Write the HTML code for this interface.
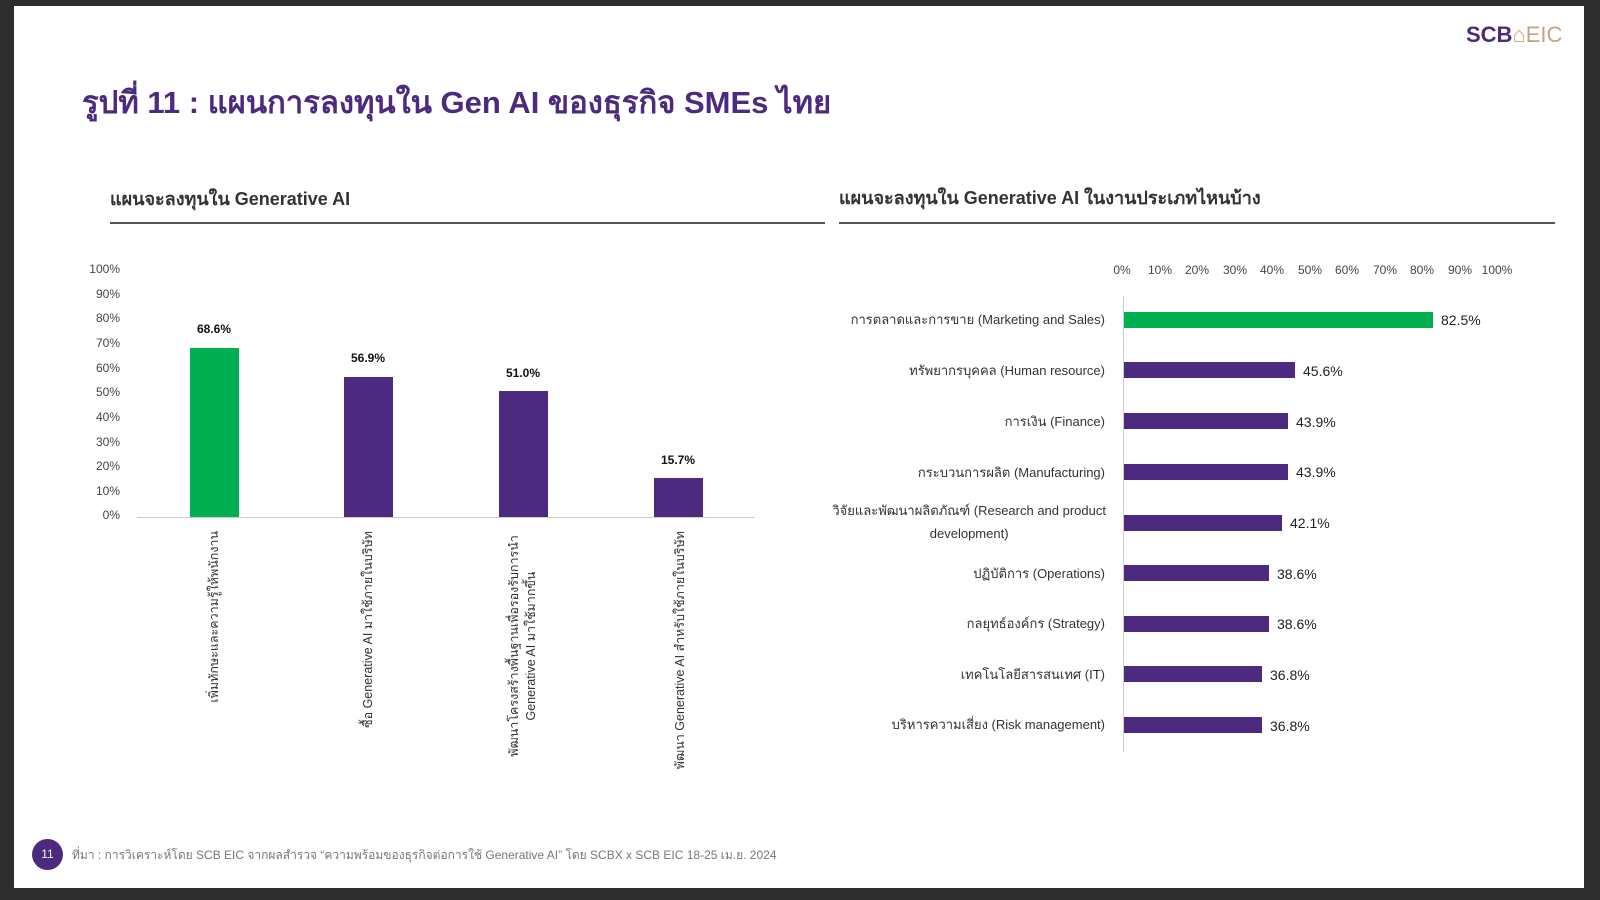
<!DOCTYPE html>
<html><head><meta charset="utf-8"><style>
*{margin:0;padding:0;box-sizing:border-box}
body{width:1600px;height:900px;background:#2d2d2d;position:relative;overflow:hidden;font-family:"Liberation Sans","DejaVu Sans",sans-serif}
#pg{position:absolute;left:14px;top:6px;width:1570px;height:882px;background:#fff}
.a{position:absolute;white-space:nowrap}
.yl{position:absolute;width:40px;text-align:right;font-size:12px;color:#444}
.xl{position:absolute;width:40px;text-align:center;font-size:12px;color:#444}
.bar{position:absolute;background:#4b2a7f}
.v{position:absolute;font-size:12px;font-weight:bold;color:#111;width:60px;text-align:center}
.rl{position:absolute;right:495px;text-align:right;font-size:13px;color:#333;line-height:23px;white-space:nowrap}
.rv{position:absolute;font-size:14px;color:#222}
.rot{position:absolute;transform-origin:0 0;transform:rotate(-90deg);font-size:12.5px;color:#333;text-align:right;line-height:17px;width:300px;white-space:nowrap}
</style></head><body>
<div id="pg"></div>
<div class="a" style="left:1466px;top:22px;font-size:22px;font-weight:bold;color:#4b2a7f">SCB<span style="color:#c8a37f;font-weight:normal">⌂EIC</span></div>
<div class="a" style="left:82px;top:77px;font-size:31px;font-weight:bold;color:#4b2a7f">รูปที่ 11 : แผนการลงทุนใน Gen AI ของธุรกิจ SMEs ไทย</div>
<div class="a" style="left:110px;top:184px;font-size:18px;font-weight:bold;color:#333">แผนจะลงทุนใน Generative AI</div>
<div class="a" style="left:110px;top:222px;width:715px;height:2px;background:#555"></div>
<div class="a" style="left:839px;top:183px;font-size:18px;font-weight:bold;color:#333">แผนจะลงทุนใน Generative AI ในงานประเภทไหนบ้าง</div>
<div class="a" style="left:839px;top:222px;width:716px;height:2px;background:#555"></div>

<!-- left chart -->
<div class="yl" style="left:80px;top:262px">100%</div>
<div class="yl" style="left:80px;top:287px">90%</div>
<div class="yl" style="left:80px;top:311px">80%</div>
<div class="yl" style="left:80px;top:336px">70%</div>
<div class="yl" style="left:80px;top:361px">60%</div>
<div class="yl" style="left:80px;top:385px">50%</div>
<div class="yl" style="left:80px;top:410px">40%</div>
<div class="yl" style="left:80px;top:435px">30%</div>
<div class="yl" style="left:80px;top:459px">20%</div>
<div class="yl" style="left:80px;top:484px">10%</div>
<div class="yl" style="left:80px;top:508px">0%</div>
<div class="a" style="left:137px;top:517px;width:618px;height:1px;background:#ccc"></div>
<div class="bar" style="left:190px;top:348px;width:49px;height:169px;background:#00b050"></div>
<div class="bar" style="left:344px;top:377px;width:49px;height:140px"></div>
<div class="bar" style="left:499px;top:391px;width:49px;height:126px"></div>
<div class="bar" style="left:654px;top:478px;width:49px;height:39px"></div>
<div class="v" style="left:184px;top:322px">68.6%</div>
<div class="v" style="left:338px;top:351px">56.9%</div>
<div class="v" style="left:493px;top:366px">51.0%</div>
<div class="v" style="left:648px;top:453px">15.7%</div>
<div class="rot" style="left:206px;top:831px">เพิ่มทักษะและความรู้ให้พนักงาน</div>
<div class="rot" style="left:360px;top:831px">ซื้อ Generative AI มาใช้ภายในบริษัท</div>
<div class="rot" style="left:506px;top:831px;text-align:center;width:230px;top:761px">พัฒนาโครงสร้างพื้นฐานเพื่อรองรับการนำ<br>Generative AI มาใช้มากขึ้น</div>
<div class="rot" style="left:672px;top:831px">พัฒนา Generative AI สำหรับใช้ภายในบริษัท</div>

<!-- right chart -->
<div class="xl" style="left:1102px;top:263px">0%</div>
<div class="xl" style="left:1140px;top:263px">10%</div>
<div class="xl" style="left:1177px;top:263px">20%</div>
<div class="xl" style="left:1215px;top:263px">30%</div>
<div class="xl" style="left:1252px;top:263px">40%</div>
<div class="xl" style="left:1290px;top:263px">50%</div>
<div class="xl" style="left:1327px;top:263px">60%</div>
<div class="xl" style="left:1365px;top:263px">70%</div>
<div class="xl" style="left:1402px;top:263px">80%</div>
<div class="xl" style="left:1440px;top:263px">90%</div>
<div class="xl" style="left:1477px;top:263px">100%</div>
<div class="a" style="left:1123px;top:296px;width:1px;height:456px;background:#ccc"></div>

<div class="bar" style="left:1124px;top:312px;width:309px;height:16px;background:#00b050"></div>
<div class="bar" style="left:1124px;top:362px;width:171px;height:16px"></div>
<div class="bar" style="left:1124px;top:413px;width:164px;height:16px"></div>
<div class="bar" style="left:1124px;top:464px;width:164px;height:16px"></div>
<div class="bar" style="left:1124px;top:515px;width:158px;height:16px"></div>
<div class="bar" style="left:1124px;top:565px;width:145px;height:16px"></div>
<div class="bar" style="left:1124px;top:616px;width:145px;height:16px"></div>
<div class="bar" style="left:1124px;top:666px;width:138px;height:16px"></div>
<div class="bar" style="left:1124px;top:717px;width:138px;height:16px"></div>
<div class="rv" style="left:1441px;top:312px">82.5%</div>
<div class="rv" style="left:1303px;top:363px">45.6%</div>
<div class="rv" style="left:1296px;top:414px">43.9%</div>
<div class="rv" style="left:1296px;top:464px">43.9%</div>
<div class="rv" style="left:1290px;top:515px">42.1%</div>
<div class="rv" style="left:1277px;top:566px">38.6%</div>
<div class="rv" style="left:1277px;top:616px">38.6%</div>
<div class="rv" style="left:1270px;top:667px">36.8%</div>
<div class="rv" style="left:1270px;top:718px">36.8%</div>

<div class="rl" style="top:308px">การตลาดและการขาย (Marketing and Sales)</div>
<div class="rl" style="top:359px">ทรัพยากรบุคคล (Human resource)</div>
<div class="rl" style="top:410px">การเงิน (Finance)</div>
<div class="rl" style="top:461px">กระบวนการผลิต (Manufacturing)</div>
<div class="rl" style="top:499px;text-align:center;right:494px">วิจัยและพัฒนาผลิตภัณฑ์ (Research and product<br>development)</div>
<div class="rl" style="top:562px">ปฏิบัติการ (Operations)</div>
<div class="rl" style="top:612px">กลยุทธ์องค์กร (Strategy)</div>
<div class="rl" style="top:663px">เทคโนโลยีสารสนเทศ (IT)</div>
<div class="rl" style="top:713px">บริหารความเสี่ยง (Risk management)</div>

<!-- footer -->
<div class="a" style="left:32px;top:839px;width:31px;height:31px;border-radius:50%;background:#4b2a7f;color:#fff;font-size:12px;text-align:center;line-height:31px">11</div>
<div class="a" style="left:72px;top:846px;font-size:12px;color:#777">ที่มา : การวิเคราะห์โดย SCB EIC จากผลสำรวจ “ความพร้อมของธุรกิจต่อการใช้ Generative AI” โดย SCBX x SCB EIC 18-25 เม.ย. 2024</div>
</body></html>
